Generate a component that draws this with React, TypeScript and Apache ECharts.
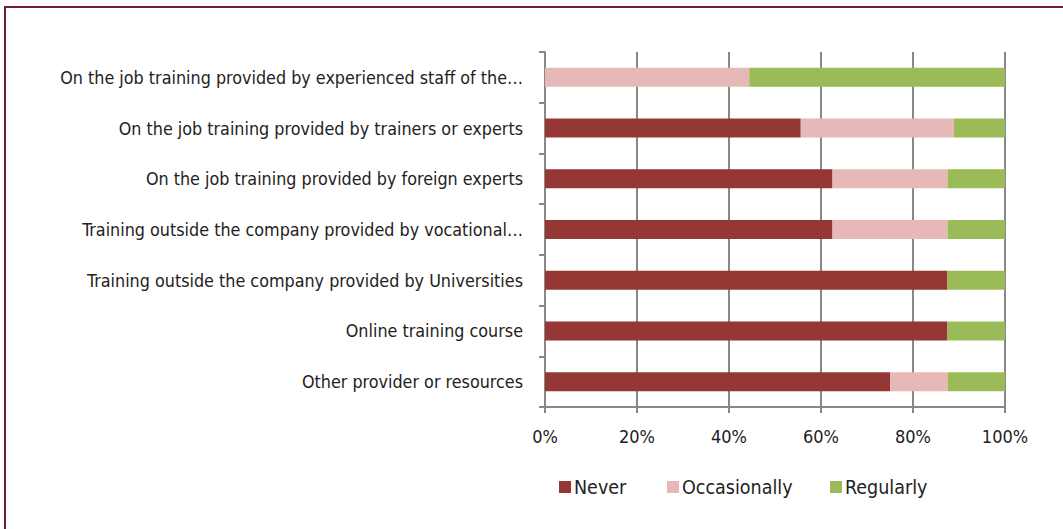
import React, { useEffect, useRef } from "react";
import * as echarts from "echarts";

const categories = [
  "On the job training provided by experienced staff of the…",
  "On the job training provided by trainers or experts",
  "On the job training provided by foreign experts",
  "Training outside the company provided by vocational…",
  "Training outside the company provided by Universities",
  "Online training course",
  "Other provider or resources",
];
const never = [0, 55.6, 62.5, 62.5, 87.5, 87.5, 75];
const occasionally = [44.4, 33.3, 25, 25, 0, 0, 12.5];
const regularly = [55.6, 11.1, 12.5, 12.5, 12.5, 12.5, 12.5];
const seriesNames = ["Never", "Occasionally", "Regularly"];
const colors = ["#953735", "#e6b9b8", "#9bbb59"];

const FONT = "'Liberation Sans Narrow', 'DejaVu Sans Condensed', 'Roboto Condensed', sans-serif";

export default function App() {
  const ref = useRef<HTMLDivElement>(null);
  useEffect(() => {
    if (!ref.current) return;
    const chart = echarts.init(ref.current, null, { renderer: "svg" });
    const values = [never, occasionally, regularly];
    const legendLefts = [554, 662, 825];
    chart.setOption({
      animation: false,
      textStyle: { fontFamily: FONT },
      graphic: [
        {
          type: "rect",
          shape: { x: 5, y: 7, width: 1200, height: 700 },
          style: { fill: "none", stroke: "#6e1c44", lineWidth: 2 },
          silent: true,
        },
      ],
      grid: { left: 545, right: 58, top: 52, bottom: 122, containLabel: false },
      xAxis: {
        type: "value",
        min: 0,
        max: 100,
        interval: 20,
        axisLine: { show: true, lineStyle: { color: "#888", width: 2 } },
        axisTick: { show: true, length: 6, lineStyle: { color: "#888", width: 2 } },
        splitLine: { show: true, lineStyle: { color: "#888", width: 2 } },
        axisLabel: {
          formatter: "{value}%",
          fontSize: 18,
          color: "#222",
          margin: 20,
          fontFamily: FONT,
        },
      },
      yAxis: {
        type: "category",
        data: categories,
        inverse: true,
        axisLine: { show: true, lineStyle: { color: "#888", width: 2 } },
        axisTick: { show: true, length: 6, lineStyle: { color: "#888", width: 2 } },
        axisLabel: { fontSize: 17.8, color: "#222", margin: 22, fontFamily: FONT },
      },
      legend: seriesNames.map((n, i) => ({
        data: [n],
        left: legendLefts[i],
        top: 472,
        itemWidth: 12,
        itemHeight: 12,
        itemGap: 4,
        icon: "rect",
        textStyle: { fontSize: 19.5, color: "#222", fontFamily: FONT, padding: [0, 0, 0, -2] },
      })),
      series: seriesNames.map((n, i) => ({
        name: n,
        type: "bar",
        stack: "total",
        barWidth: 19,
        data: values[i],
        itemStyle: { color: colors[i] },
      })),
    });
    return () => chart.dispose();
  }, []);
  return (
    <div
      ref={ref}
      style={{ position: "fixed", left: 0, top: 0, width: 1063, height: 529, background: "#fff" }}
    />
  );
}
